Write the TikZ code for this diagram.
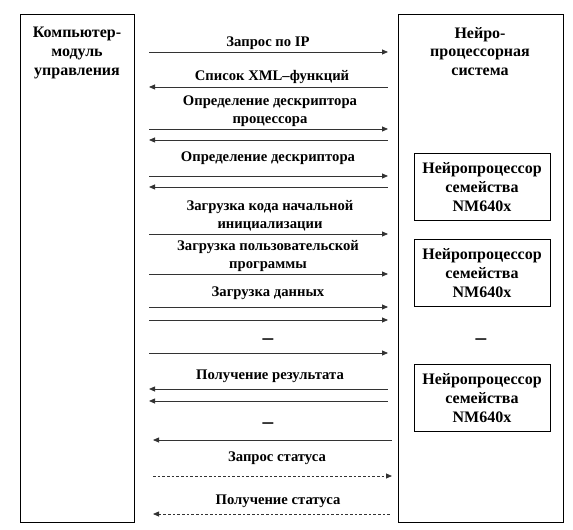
\documentclass[tikz,border=0pt]{standalone}
\usepackage{fontspec}
\setmainfont{Liberation Serif}
\usetikzlibrary{arrows.meta, positioning}

\begin{document}
\begin{tikzpicture}[
    x=0.75pt, y=-0.75pt,
    font=\fontsize{12}{14}\selectfont\bfseries,
    panel/.style={rectangle, draw, line width=0.75pt, anchor=north west, inner sep=0pt},
    head/.style={align=center, anchor=north, inner sep=0pt},
    npu/.style={rectangle, draw, line width=0.75pt, minimum width=102pt,
                minimum height=50pt, align=center, inner sep=0pt},
    lbl/.style={align=center, anchor=south, inner sep=0pt,
                font=\fontsize{11}{13.5}\selectfont\bfseries},
    gapmark/.style={inner sep=0pt, font=\fontsize{16}{16}\selectfont\bfseries},
    msg/.style={line width=0.6pt, draw=black!80, shorten <=10.5pt, shorten >=7.5pt},
    fwd/.style={msg, -{Triangle[length=4.5pt, width=3.75pt]}},
    bwd/.style={msg, {Triangle[length=4.5pt, width=3.75pt]}-},
    late/.style={shorten <=13.5pt, shorten >=4.5pt},
    dsh/.style={dash pattern=on 2pt off 1.5pt},
  ]
    \useasboundingbox (0,0) rectangle (573,530);

    % the two sides
    \node[panel, minimum width=85.5pt, minimum height=381pt] (ctrl) at (20,14) {};
    \node[panel, minimum width=123.75pt, minimum height=381pt] (sys) at (398,14) {};
    \node[head] (ctrlname) at (77,27) {Компьютер-\\модуль\\управления};
    \node[head] (sysname) at (480,27) {Нейро-\\процессорная\\система};

    % processors
    \node[npu] (npu1) at (482,187) {Нейропроцессор\\семейства\\NM640x};
    \node[npu] (npu2) at (482,273) {Нейропроцессор\\семейства\\NM640x};
    \node[gapmark] (npugap) at (481,342) {–};
    \node[npu] (npu3) at (482,398) {Нейропроцессор\\семейства\\NM640x};

    % messages
    \foreach \y/\kind in {52/fwd, 87/bwd, 129/fwd, 140/bwd, 176/fwd, 187/bwd,
                          234/fwd, 274/fwd, 307/fwd, 320/fwd, 353/fwd,
                          389/bwd, 401/bwd}{
      \draw[\kind] (ctrl.east |- 0,\y) -- (sys.west |- 0,\y);
    }
    \draw[bwd, late] (ctrl.east |- 0,440) -- (sys.west |- 0,440);
    \draw[fwd, late, dsh] (ctrl.east |- 0,476) -- (sys.west |- 0,476);
    \draw[bwd, late, dsh] (ctrl.east |- 0,514) -- (sys.west |- 0,514);

    \node[lbl] (ipreq) at (268,50) {Запрос по IP};
    \node[lbl] (xmllist) at (272,84) {Список XML–функций};
    \node[lbl] (cpudesc) at (270,127) {Определение дескриптора\\процессора};
    \node[lbl] (desc) at (268,165) {Определение дескриптора};
    \node[lbl] (initload) at (270,231) {Загрузка кода начальной\\инициализации};
    \node[lbl] (progload) at (268,272) {Загрузка пользовательской\\программы};
    \node[lbl] (dataload) at (268,300) {Загрузка данных};
    \node[gapmark] (msggap1) at (268,342) {–};
    \node[lbl] (result) at (270,383) {Получение результата};
    \node[gapmark] (msggap2) at (268,426) {–};
    \node[lbl] (statreq) at (277,465) {Запрос статуса};
    \node[lbl] (statget) at (278,508) {Получение статуса};
  \end{tikzpicture}
\end{document}
